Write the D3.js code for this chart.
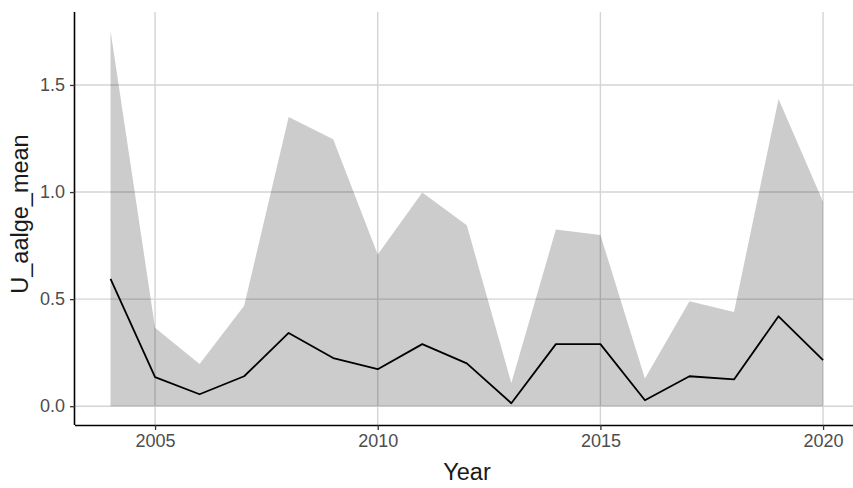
<!DOCTYPE html>
<html><head><meta charset="utf-8">
<script src="https://cdn.jsdelivr.net/npm/d3@7"></script>
<style>body{margin:0;background:#fff}svg{display:block}text{font-family:"Liberation Sans",Arial,sans-serif}</style>
</head><body><svg id="c" width="853" height="488"></svg>
<script>
const years = [2004,2005,2006,2007,2008,2009,2010,2011,2012,2013,2014,2015,2016,2017,2018,2019,2020];
const meanVals = [0.595,0.136,0.056,0.14,0.342,0.225,0.173,0.29,0.20,0.014,0.29,0.29,0.028,0.14,0.125,0.42,0.215];
const upperVals = [1.753,0.366,0.197,0.469,1.35,1.247,0.708,0.998,0.845,0.108,0.825,0.80,0.13,0.49,0.44,1.435,0.955];
const lowerVals = [0,0,0,0,0,0,0,0,0,0,0,0,0,0,0,0,0];
const xTicks = [2005,2010,2015,2020];
const yTicks = [0,0.5,1.0,1.5];

const svg = d3.select("#c");
const L = 75, T = 12, B = 425;
const x = d3.scaleLinear().domain([2003.2, 2020.8]).range([74.9, 858.7]);
const y = d3.scaleLinear().domain([-0.0877, 1.8407]).range([B, T]);

// grid
const g = svg.append("g");
g.selectAll(".gx").data(xTicks).join("line")
  .attr("x1", d=>x(d)).attr("x2", d=>x(d)).attr("y1", T).attr("y2", B)
  .attr("stroke", "#d4d4d4").attr("stroke-width", 1.4);
g.selectAll(".gy").data(yTicks).join("line")
  .attr("x1", L).attr("x2", 853).attr("y1", d=>y(d)).attr("y2", d=>y(d))
  .attr("stroke", "#d4d4d4").attr("stroke-width", 1.4);

const data = years.map((yr,i)=>({yr, m:meanVals[i], lo:lowerVals[i], hi:upperVals[i]}));
svg.append("path").datum(data)
  .attr("d", d3.area().x(d=>x(d.yr)).y0(d=>y(d.lo)).y1(d=>y(d.hi)))
  .attr("fill", "#000").attr("fill-opacity", 0.2);
svg.append("path").datum(data)
  .attr("d", d3.line().x(d=>x(d.yr)).y(d=>y(d.m)))
  .attr("fill", "none").attr("stroke", "#000").attr("stroke-width", 1.8)
  .attr("stroke-linejoin", "round");

// axes
const xa = svg.append("g").attr("transform", `translate(0,${B})`)
  .call(d3.axisBottom(x).tickValues(xTicks).tickFormat(d3.format("d")).tickSizeOuter(0).tickSize(5).tickPadding(4));
const ya = svg.append("g").attr("transform", `translate(${L},0)`)
  .call(d3.axisLeft(y).tickValues(yTicks).tickFormat(d3.format(".1f")).tickSizeOuter(0).tickSize(5).tickPadding(5));
[xa, ya].forEach(a=>{
  a.attr("font-size", null).attr("font-family", null);
  a.select(".domain").attr("stroke", "#000").attr("stroke-width", 1.6);
  a.selectAll(".tick line").attr("stroke", "#333").attr("stroke-width", 1.3);
  a.selectAll(".tick text").attr("fill", "#4d4d4d").attr("font-size", 18).style("font-size", "18px");
});
xa.select(".domain").attr("d", `M${L},0.5H853`);
ya.select(".domain").attr("d", `M-0.5,${T}V${B}`);

svg.append("text").attr("x", 467).attr("y", 480).attr("text-anchor", "middle")
  .style("font-size", "23.5px").attr("fill", "#1a1a1a").text("Year");
svg.append("text").attr("transform", "translate(28,214) rotate(-90)").attr("text-anchor", "middle")
  .style("font-size", "23.5px").attr("fill", "#1a1a1a").text("U_aalge_mean");
</script></body></html>
